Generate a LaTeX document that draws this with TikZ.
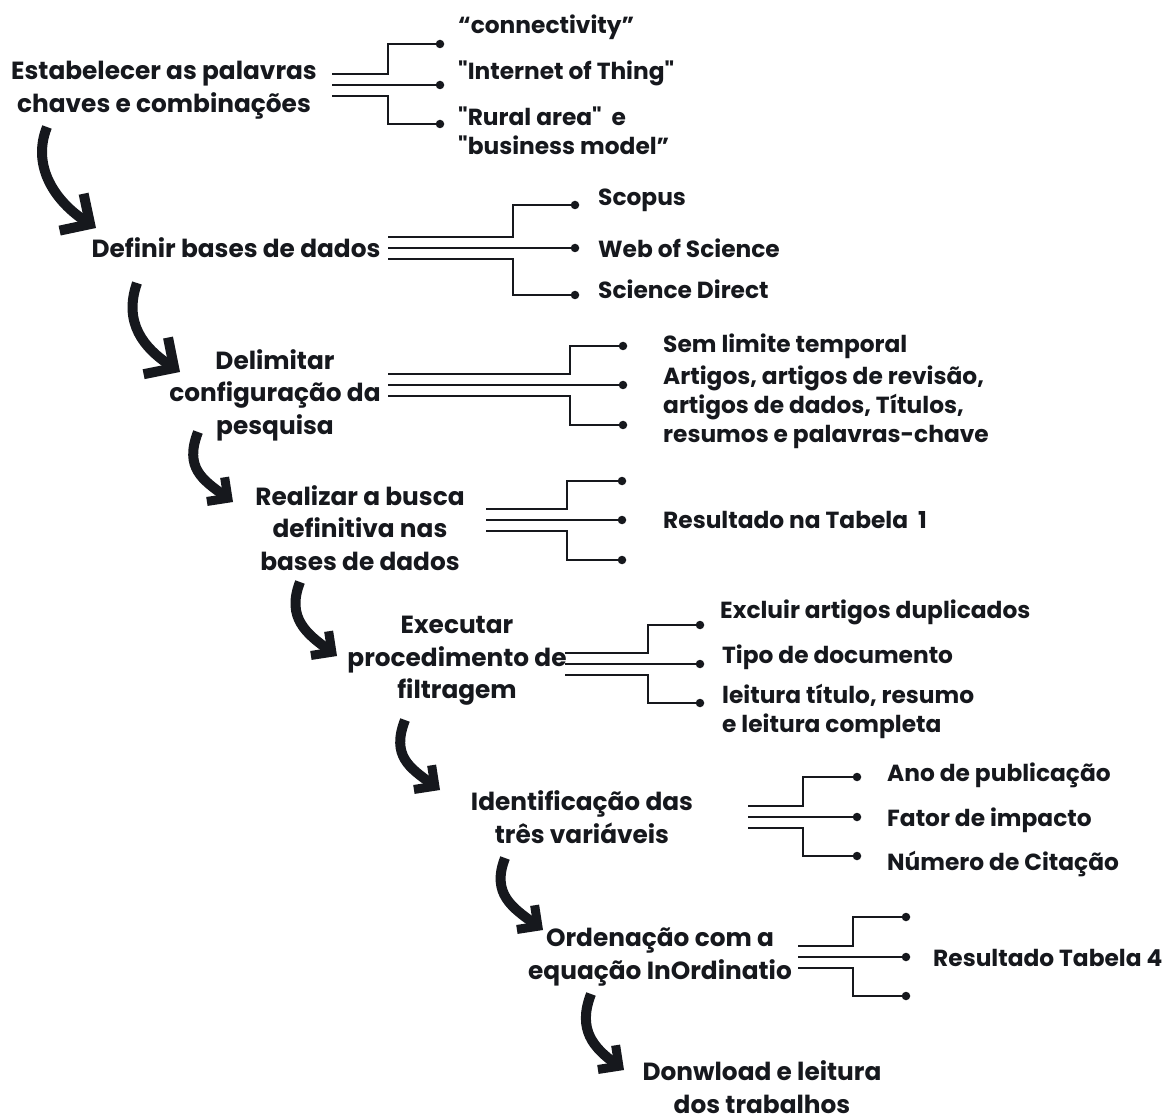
\documentclass[tikz,border=0pt]{standalone}
\usepackage{fontspec}
\setmainfont{Poppins}[Ligatures=TeXOff]
\usetikzlibrary{arrows.meta}
\definecolor{ink}{HTML}{16181D}
\newcommand\stagefont{\fontsize{24.8}{32.5}\selectfont\bfseries}
\newcommand\itemfont{\fontsize{23.3}{29}\selectfont\bfseries}
% three-way fork: name, start x, middle y, riser x, dot x, top dot y, bottom dot y
\newcommand\forkthree[7]{%
  \node[tipdot] (#1t) at (#5,#6) {};
  \node[tipdot] (#1m) at (#5,#3) {};
  \node[tipdot] (#1b) at (#5,#7) {};
  \coordinate (#1u) at (#2,#3-11);
  \coordinate (#1c) at (#2,#3);
  \coordinate (#1d) at (#2,#3+11);
  \draw[wire] (#1u) -| (#4,#6) -- (#1t.center);
  \draw[wire] (#1c) -- (#1m.center);
  \draw[wire] (#1d) -| (#4,#7) -- (#1b.center);
}
\begin{document}
\begin{tikzpicture}[x=1pt,y=-1pt,
  stage/.style={align=center, font=\stagefont, text=ink, inner sep=0pt},
  item/.style={anchor=west, align=left, font=\itemfont, text=ink, inner sep=0pt},
  tipdot/.style={circle, fill=ink, inner sep=0pt, minimum size=8.5pt},
  wire/.style={draw=ink, line width=2.4pt},
  flow/.style={draw=ink, line width=10pt,
    -{Straight Barb[length=15pt,width=30pt,line width=9pt]}},
  bigflow/.style={flow,
    -{Straight Barb[length=22pt,width=44pt,line width=10pt]}}
]
\useasboundingbox[fill=white] (0,0) rectangle (1163,1115);

% stages
\node[stage] (s1) at (164,90)  {Estabelecer as palavras\\chaves e combinações};
\node[stage] (s2) at (236,248) {Definir bases de dados};
\node[stage] (s3) at (275,395) {Delimitar\\configuração da\\pesquisa};
\node[stage] (s4) at (360,528) {Realizar a busca\\definitiva nas\\bases de dados};
\node[stage] (s5) at (457,661) {Executar\\procedimento de\\filtragem};
\node[stage] (s6) at (582,817) {Identificação das\\três variáveis};
\node[stage] (s7) at (660,957) {Ordenação com a\\equação InOrdinatio};
\node[stage] (s8) at (762,1087) {Donwload e leitura\\dos trabalhos};

% forks
\forkthree{k1}{332}{85}{388}{440}{44}{124}
\forkthree{k2}{388}{248}{513}{575}{205}{295}
\forkthree{k3}{388}{385}{570}{623}{346}{425}
\forkthree{k4}{486}{520}{567}{622}{481}{560}
\forkthree{k5}{565}{664}{648}{700}{625}{703}
\forkthree{k6}{748}{817}{803}{857}{777}{856}
\forkthree{k7}{798}{957}{853}{906}{917}{996}

% labels at the forks
\node[item] (i11) at (458,27)  {“connectivity”};
\node[item] (i12) at (458,73)  {"Internet of Thing"};
\node[item] (i13) at (458,131) {"Rural area"\ \ e\\"business model”};
\node[item] (i21) at (598,200) {Scopus};
\node[item] (i22) at (598,248) {Web of Science};
\node[item] (i23) at (598,289) {Science Direct};
\node[item] (i31) at (663,346) {Sem limite temporal};
\node[item] (i32) at (663,407) {Artigos, artigos de revisão,\\artigos de dados, Títulos,\\resumos e palavras-chave};
\node[item] (i41) at (663,520) {Resultado na Tabela\ \ 1};
\node[item] (i51) at (720,612) {Excluir artigos duplicados};
\node[item] (i52) at (722,657) {Tipo de documento};
\node[item] (i53) at (722,711) {leitura título, resumo\\e leitura completa};
\node[item] (i61) at (887,775) {Ano de publicação};
\node[item] (i62) at (887,820) {Fator de impacto};
\node[item] (i63) at (887,864) {Número de Citação};
\node[item] (i71) at (933,958) {Resultado Tabela 4};

% curved arrows between stages
\coordinate (f1a) at (47,127);  \coordinate (f1b) at (96,228);
\coordinate (f2a) at (137,283); \coordinate (f2b) at (180,372);
\coordinate (f3a) at (198,432); \coordinate (f3b) at (233,502);
\coordinate (f4a) at (300,582); \coordinate (f4b) at (337,656);
\coordinate (f5a) at (405,720); \coordinate (f5b) at (440,790);
\coordinate (f6a) at (505,858); \coordinate (f6b) at (543,930);
\coordinate (f7a) at (591,994); \coordinate (f7b) at (624,1070);
\draw[bigflow] (f1a) .. controls +(-16,40) and +(-40,-26) .. (f1b);
\draw[bigflow] (f2a) .. controls +(-14,40) and +(-36,-24) .. (f2b);
\foreach \n in {3,...,7}{
  \draw[flow] (f\n a) .. controls +(-14,36) and +(-30,-22) .. (f\n b);
}
\end{tikzpicture}
\end{document}
